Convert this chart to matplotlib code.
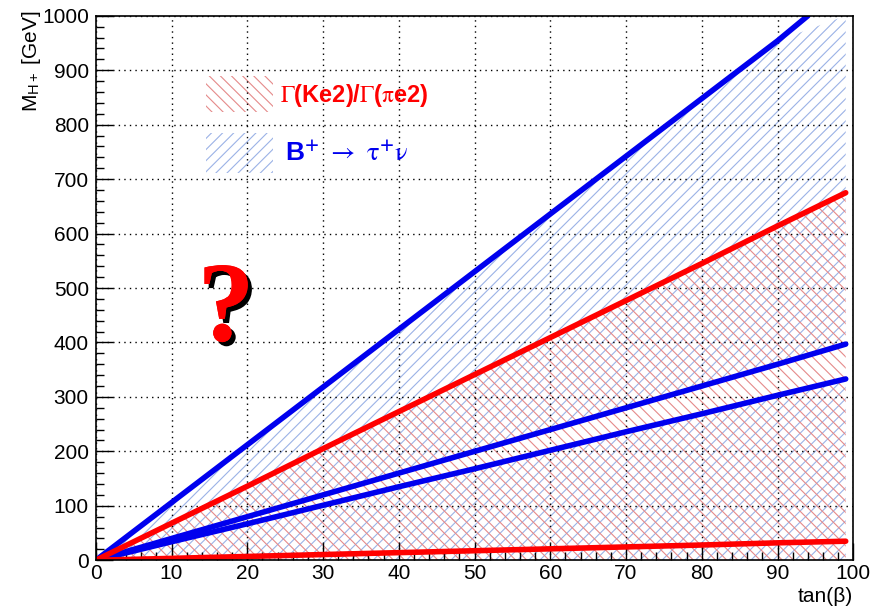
import numpy as np
import matplotlib.pyplot as plt
from matplotlib.ticker import MultipleLocator
import matplotlib.patheffects as pe

# tan(beta) sample points and mass boundaries
tanb = [0, 10, 20, 30, 40, 50, 60, 70, 80, 90, 99]
tanb_top = [0, 10, 20, 30, 40, 50, 60, 70, 80, 90, 94]
blue_top = [0, 106, 212, 318, 424, 530, 636, 742, 848, 954, 1000]
red_top = [0, 68, 136, 205, 273, 341, 409, 477, 545, 614, 675]
blue_mid = [0, 40, 80, 120, 160, 200, 240, 280, 320, 360, 397]
blue_low = [0, 34, 67, 101, 135, 168, 202, 236, 269, 303, 333]
red_low = [0, 3.5, 7, 10.5, 14, 17.5, 21, 24.5, 28, 32, 35]

plt.rcParams['font.family'] = ['Liberation Sans', 'DejaVu Sans']
plt.rcParams['mathtext.fontset'] = 'stix'
plt.rcParams['hatch.linewidth'] = 0.8

fig = plt.figure(figsize=(8.87, 6.07), dpi=100)
ax = fig.add_axes([0.108, 0.077, 0.854, 0.897])

red_c = '#ff0000'
blue_c = '#0000ee'
red_h = '#e58a8a'
blue_h = '#9bb2e6'

x = np.array(tanb, dtype=float)
upper = np.minimum(np.interp(x, tanb_top, blue_top, right=1000), 1000)

# blue hatched regions
ax.fill_between(x, blue_mid, upper, facecolor='none', edgecolor=blue_h,
                hatch='///', linewidth=0)
ax.fill_between(x, 0, blue_low, facecolor='none', edgecolor=blue_h,
                hatch='///', linewidth=0)
# red hatched region
ax.fill_between(x, 0, red_top, facecolor='none', edgecolor=red_h,
                hatch='\\\\\\', linewidth=0)

ax.plot(tanb_top, blue_top, color=blue_c, lw=4, solid_capstyle='round')
ax.plot(tanb, blue_mid, color=blue_c, lw=4, solid_capstyle='round')
ax.plot(tanb, blue_low, color=blue_c, lw=4, solid_capstyle='round')
ax.plot(tanb, red_top, color=red_c, lw=4, solid_capstyle='round')
ax.plot(tanb, red_low, color=red_c, lw=4, solid_capstyle='round')

ax.set_xlim(0, 100)
ax.set_ylim(0, 1000)
ax.xaxis.set_major_locator(MultipleLocator(10))
ax.xaxis.set_minor_locator(MultipleLocator(2))
ax.yaxis.set_major_locator(MultipleLocator(100))
ax.yaxis.set_minor_locator(MultipleLocator(20))
ax.tick_params(which='both', direction='in', top=False, right=False,
               labelsize=15, width=1.0)
ax.tick_params(which='major', length=12, pad=5)
ax.tick_params(axis='x', which='major', pad=3)
ax.tick_params(which='minor', length=6)
ax.grid(True, which='major', color='black', linestyle=(0, (1, 3)), linewidth=1.0)
for s in ax.spines.values():
    s.set_linewidth(1.2)

ax.set_xlabel('tan(β)', fontsize=15, ha='right', va='top')
ax.xaxis.set_label_coords(1.0, -0.049)
ax.set_ylabel(r'M$_{\mathregular{H+}}$ [GeV]', fontsize=15, ha='right', va='center')
ax.yaxis.set_label_coords(-0.085, 1.01)

# legend boxes
ax.fill_between([14.6, 23.4], 823, 890, facecolor='none', edgecolor=red_h,
                hatch='\\\\\\', linewidth=0)
ax.fill_between([14.6, 23.4], 711, 785, facecolor='none', edgecolor=blue_h,
                hatch='///', linewidth=0)
ax.text(24.3, 853, r'$\mathrm{\Gamma}$(Ke2)/$\mathrm{\Gamma}$($\mathrm{\pi}$e2)',
        color=red_c, fontsize=17, fontweight='bold', va='center')
ax.text(25.0, 748, r'B$^{\mathbf{+}}$ $\rightarrow$ $\mathrm{\tau}^{\mathbf{+}}\mathrm{\nu}$',
        color=blue_c, fontsize=19, fontweight='bold', va='center')

ax.text(17.2, 455, '?', color='#ff0000', fontsize=82, fontweight='bold',
        family='Liberation Serif', ha='center', va='center',
        path_effects=[pe.withSimplePatchShadow(offset=(3, -3), shadow_rgbFace='black', alpha=1.0),
                      pe.Normal()])

fig.savefig('out.png', dpi=100)
